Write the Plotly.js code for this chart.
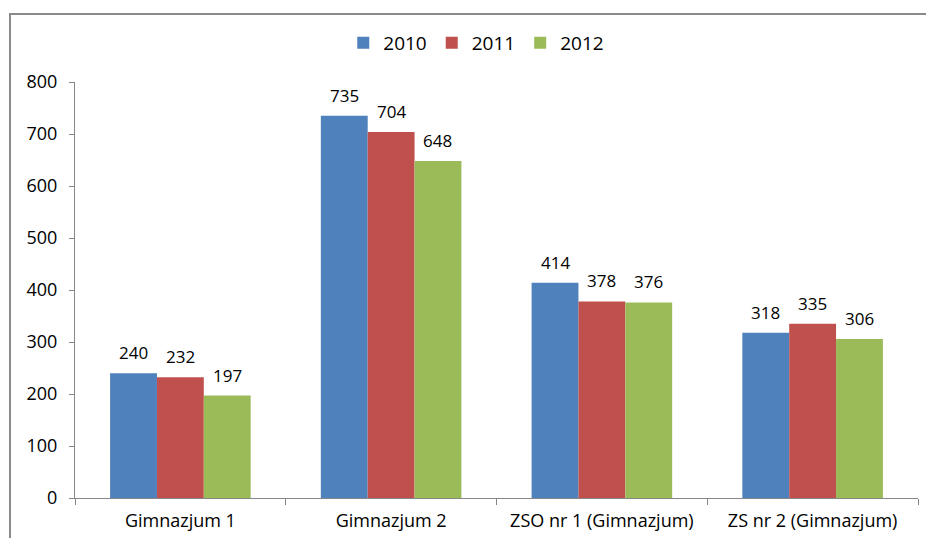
<!DOCTYPE html>
<html>
<head>
<meta charset="utf-8">
<script src="https://cdn.plot.ly/plotly-3.0.1.min.js"></script>
<style>
  html, body { margin: 0; padding: 0; background: #fff; }
  #wrap { position: relative; width: 926px; height: 538px; }
  #chart { width: 926px; height: 538px; }
  #frame { position: absolute; left: 9px; top: 13px; width: 930px; height: 540px;
           border-left: 2px solid #8a8a8a; border-top: 2px solid #8a8a8a; pointer-events: none; }
</style>
</head>
<body>
<div id="wrap">
  <div id="chart"></div>
  <div id="frame"></div>
</div>
<script>
const categories = ["Gimnazjum 1", "Gimnazjum 2", "ZSO nr 1 (Gimnazjum)", "ZS nr 2 (Gimnazjum)"];
const seriesNames = ["2010", "2011", "2012"];
const values2010 = [240, 735, 414, 318];
const values2011 = [232, 704, 378, 335];
const values2012 = [197, 648, 376, 306];
const yTicks = [0, 100, 200, 300, 400, 500, 600, 700, 800];

const colors = ["#4F81BD", "#C0504D", "#9BBB59"];
const allValues = [values2010, values2011, values2012];
const FONT = "'Open Sans', sans-serif";
const BARGAP = 0.333;

const traces = allValues.map((vals, i) => ({
  type: "bar",
  name: seriesNames[i],
  x: categories,
  y: vals,
  marker: { color: colors[i], line: { width: 0 } },
  hoverinfo: "none"
}));

// data labels as annotations anchored on each bar's top
const barW = (1 - BARGAP) / allValues.length;
const annotations = [];
allValues.forEach((vals, i) => {
  vals.forEach((v, j) => {
    annotations.push({
      x: j + (i - (allValues.length - 1) / 2) * barW,
      y: v,
      xref: "x", yref: "y",
      text: String(v),
      showarrow: false,
      yanchor: "bottom",
      yshift: 7,
      font: { family: FONT, size: 17, color: "#000" }
    });
  });
});

const layout = {
  width: 926,
  height: 538,
  margin: { l: 75, r: 8, t: 82, b: 40 },
  paper_bgcolor: "#ffffff",
  plot_bgcolor: "#ffffff",
  barmode: "group",
  bargap: BARGAP,
  bargroupgap: 0,
  showlegend: true,
  legend: {
    orientation: "h",
    x: 0.476, xanchor: "center",
    y: 1.094, yanchor: "middle",
    font: { family: FONT, size: 19, color: "#000" },
    itemwidth: 30,
    traceorder: "normal"
  },
  annotations: annotations,
  xaxis: {
    type: "category",
    showgrid: false,
    zeroline: false,
    showline: true,
    linecolor: "#868686",
    linewidth: 1,
    ticks: "outside",
    tickson: "boundaries",
    ticklen: 6,
    tickcolor: "#868686",
    tickfont: { family: FONT, size: 18, color: "#000" },
    ticklabelstandoff: 6,
    fixedrange: true
  },
  yaxis: {
    range: [0, 800],
    tickvals: yTicks,
    ticktext: yTicks.map(String),
    showgrid: false,
    zeroline: false,
    showline: true,
    linecolor: "#868686",
    linewidth: 1,
    ticks: "outside",
    ticklen: 5,
    tickcolor: "#868686",
    tickfont: { family: FONT, size: 18, color: "#000" },
    ticklabelstandoff: 8,
    fixedrange: true
  }
};

Plotly.newPlot("chart", traces, layout, { displayModeBar: false, staticPlot: true });
</script>
</body>
</html>
